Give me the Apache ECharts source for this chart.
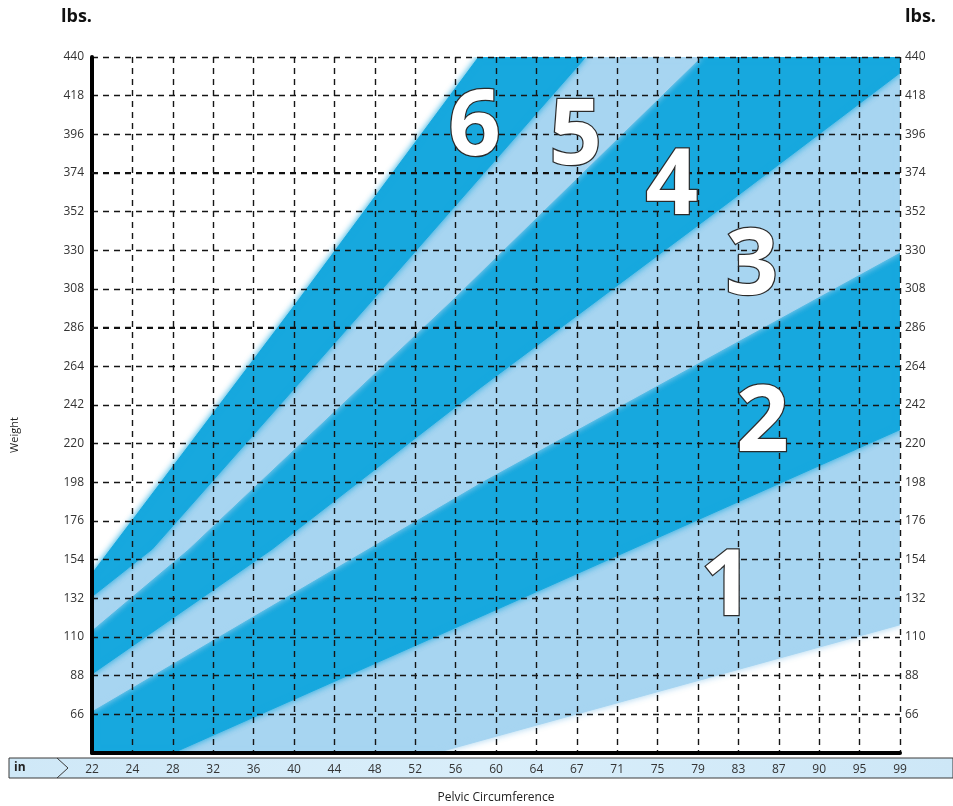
<!DOCTYPE html>
<html>
<head>
<meta charset="utf-8">
<script src="https://cdn.jsdelivr.net/npm/echarts@6/dist/echarts.min.js"></script>
<style>
  html, body { margin: 0; padding: 0; background: #ffffff; }
  #chart { width: 953px; height: 806px; }
</style>
</head>
<body>
<div id="chart"></div>
<script>
// ---- Data ----
// Pelvic circumference tick labels (inches), evenly spaced on the chart
const xLabels = ['22','24','28','32','36','40','44','48','52','56','60','64','67','71','75','79','83','87','90','95','99'];
// Weight axis (lbs.)
const weightMin = 44;
const weightMax = 440;
const weightStep = 22;
// Grid rows drawn slightly heavier in the reference
const boldWeights = [374, 286];

// Band boundaries as [x tick index, weight] points
const edgeWhite6 = [[0, 146], [4.96, 297], [9.57, 440]];
const edge6to5   = [[0, 133], [1.49, 160], [6.84, 299], [12.22, 440]];
const edge5to4   = [[0, 114], [2.38, 160], [8.92, 302], [15.07, 440]];
const edge4to3   = [[0, 89], [4.46, 160], [9.62, 252], [15.74, 357], [20, 431]];
const edge3to2   = [[0, 68], [9.62, 198], [20, 329]];
const edge2to1   = [[2, 44], [10.24, 128], [20, 228]];
const edge1White = [[8.5, 44], [20, 117]];

// Band names and where their big numbers sit [x index, weight]
const bandNames = ['1', '2', '3', '4', '5', '6'];
const bandLabelPos = [[15.71, 137.5], [16.6, 231], [16.33, 320], [14.35, 365.5], [11.97, 394], [9.47, 399]];

// ---- Build chart ----
const DARK = '#17a8de';
const LIGHT = '#a7d5f1';
const xMax = xLabels.length - 1;

const bands = [
  { lower: edge1White, upper: edge2to1,   color: LIGHT },
  { lower: edge2to1,   upper: edge3to2,   color: DARK },
  { lower: edge3to2,   upper: edge4to3,   color: LIGHT },
  { lower: edge4to3,   upper: edge5to4,   color: DARK },
  { lower: edge5to4,   upper: edge6to5,   color: LIGHT },
  { lower: edge6to5,   upper: edgeWhite6, color: DARK }
];

function bandPolygon(lower, upper) {
  const pts = lower.slice();
  const lastL = lower[lower.length - 1], lastU = upper[upper.length - 1];
  if (lastL[0] === xMax && lastU[1] === weightMax && lastU[0] !== xMax) pts.push([xMax, weightMax]);
  upper.slice().reverse().forEach(p => pts.push(p));
  const firstU = upper[0], firstL = lower[0];
  if (firstU[0] === 0 && firstL[1] === weightMin && firstL[0] !== 0) pts.push([0, weightMin]);
  return pts;
}
const polys = bands.map(b => bandPolygon(b.lower, b.upper));

const chart = echarts.init(document.getElementById('chart'), null, { renderer: 'canvas' });

const FONT = 'Open Sans';
const gridLine = { show: true, lineStyle: { color: '#151515', width: 1.4, type: [6, 5] } };

const option = {
  animation: false,
  backgroundColor: '#ffffff',
  textStyle: { fontFamily: FONT },
  grid: { left: 92, right: 53, top: 57, bottom: 53, containLabel: false, outerBoundsMode: 'none' },
  xAxis: {
    type: 'value', min: 0, max: xMax, interval: 1,
    name: 'Pelvic Circumference', nameLocation: 'middle', nameGap: 45,
    nameTextStyle: { fontSize: 12, color: '#222', fontFamily: FONT, verticalAlign: 'middle' },
    axisLine: { show: true, onZero: false, lineStyle: { color: '#000', width: 4 } },
    axisTick: { show: false },
    splitLine: gridLine,
    axisLabel: { margin: 11, fontSize: 12, color: '#333', fontFamily: FONT,
      formatter: v => xLabels[v] }
  },
  yAxis: [
    {
      type: 'value', min: weightMin, max: weightMax, interval: weightStep, position: 'left',
      axisLine: { show: true, onZero: false, lineStyle: { color: '#000', width: 4 } },
      axisTick: { show: false },
      splitLine: gridLine,
      axisLabel: { margin: 8, fontSize: 12, color: '#333', fontFamily: FONT, showMinLabel: false }
    },
    {
      type: 'value', min: weightMin, max: weightMax, interval: weightStep, position: 'right',
      axisLine: { show: false },
      axisTick: { show: false },
      splitLine: { show: false },
      axisLabel: { margin: 5, fontSize: 12, color: '#333', fontFamily: FONT, showMinLabel: false }
    }
  ],
  graphic: [
    {
      type: 'rect', z: -10, silent: true,
      shape: { x: 9, y: 758, width: 944, height: 20 },
      style: {
        fill: new echarts.graphic.LinearGradient(0, 0, 1, 0, [
          { offset: 0, color: '#cfe8f7' }, { offset: 0.5, color: '#d9eefa' }, { offset: 1, color: '#cde7f7' }
        ]),
        stroke: '#3a3a3a', lineWidth: 1
      }
    },
    {
      type: 'polyline', z: -9, silent: true,
      shape: { points: [[57, 758], [68, 768], [57, 778]] },
      style: { stroke: '#3a3a3a', lineWidth: 1, fill: null }
    },
    {
      type: 'text', z: 5, silent: true, x: 14, y: 768,
      style: { text: 'in', fontSize: 12, fontWeight: 'bold', fill: '#222', fontFamily: FONT, verticalAlign: 'middle', align: 'left' }
    },
    {
      type: 'text', z: 5, silent: true, x: 15, y: 435, rotation: Math.PI / 2,
      style: { text: 'Weight', fontSize: 11, fill: '#222', fontFamily: FONT, verticalAlign: 'middle', align: 'center' }
    },
    {
      type: 'text', z: 5, silent: true, x: 92, y: 17,
      style: { text: 'lbs.', fontSize: 18, fontWeight: 'bold', fill: '#111', fontFamily: FONT, verticalAlign: 'middle', align: 'right' }
    },
    {
      type: 'text', z: 5, silent: true, x: 905, y: 17,
      style: { text: 'lbs.', fontSize: 18, fontWeight: 'bold', fill: '#111', fontFamily: FONT, verticalAlign: 'middle', align: 'left' }
    }
  ],
  series: [
    {
      type: 'custom', z: -1, silent: true, clip: true,
      coordinateSystem: 'cartesian2d', xAxisIndex: 0, yAxisIndex: 0,
      data: polys.map((p, k) => ({ value: [p[0][0], p[0][1]] })),
      renderItem: function (params, api) {
        const poly = polys[params.dataIndex];
        const pts = poly.map(p => api.coord(p));
        const c = bands[params.dataIndex].color;
        return {
          type: 'polygon',
          shape: { points: pts },
          style: { fill: c, stroke: c, lineWidth: 1, shadowBlur: 6, shadowColor: c }
        };
      },
      markLine: {
        silent: true, symbol: 'none', label: { show: false },
        lineStyle: { color: '#111', width: 2.2, type: [6, 5] },
        data: boldWeights.map(w => ({ yAxis: w }))
      }
    },
    {
      type: 'scatter', z: 10, silent: true,
      xAxisIndex: 0, yAxisIndex: 0,
      symbolSize: 0, itemStyle: { color: '#ffffff', opacity: 1 },
      data: bandLabelPos.map((p, k) => ({ value: p, name: bandNames[k] })),
      label: {
        show: true, position: 'inside', formatter: p => p.name,
        fontSize: 92, fontWeight: 'bold', fontFamily: FONT,
        color: '#ffffff', opacity: 1, textBorderColor: '#2b2b2b', textBorderWidth: 2.5
      }
    }
  ]
};
chart.setOption(option);
</script>
</body>
</html>
